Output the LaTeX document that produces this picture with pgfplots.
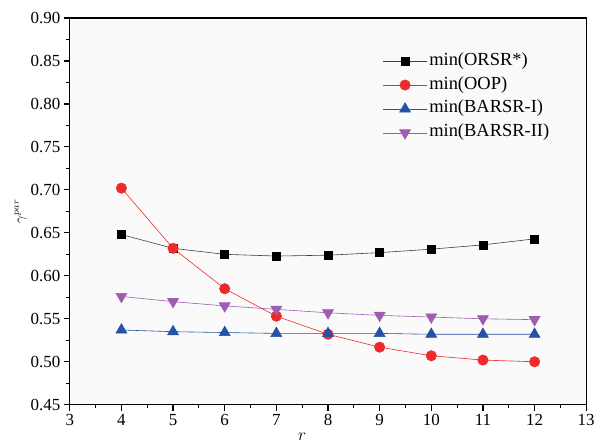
\documentclass[border=0pt]{standalone}
\usepackage{pgfplots}
\pgfplotsset{compat=1.18}
\usepackage{fontspec}
\setmainfont{Liberation Serif}
\definecolor{cred}{HTML}{EE2A2A}
\definecolor{cblue}{HTML}{2452A4}
\definecolor{cpurple}{HTML}{A05CB0}
\begin{document}
\begin{tikzpicture}
\begin{axis}[
  scale only axis,
  width=518pt, height=388pt,
  xmin=3, xmax=13, ymin=0.45, ymax=0.90,
  xtick={3,4,...,13},
  ytick={0.45,0.50,...,0.91},
  minor x tick num=1, minor y tick num=1,
  tick pos=left, tick align=outside,
  major tick length=6pt, minor tick length=3.5pt,
  axis line style={line width=1.2pt},
  every tick/.style={line width=1.2pt, black},
  axis background/.style={fill=black!2},
  /pgf/number format/assume math mode=true,
  yticklabel style={/pgf/number format/fixed, /pgf/number format/fixed zerofill, /pgf/number format/precision=2},
  ticklabel style={font=\fontsize{17}{20}\selectfont},
  xlabel={$r$}, ylabel={$\gamma^{par}$},
  xlabel style={font=\fontsize{17}{20}\selectfont, at={(ticklabel cs:0.45)}, anchor=north, yshift=-1pt},
  ylabel style={font=\fontsize{14}{16}\selectfont, yshift=-3pt},
  legend style={draw=none, fill=none, at={(0.6,0.925)}, anchor=north west,
    font=\fontsize{18.5}{22}\selectfont, row sep=0pt,
    nodes={text height=14pt, text depth=6pt}},
  legend cell align=left,
  legend image code/.code={\draw[mark repeat=2,mark phase=2,#1] plot coordinates {(0pt,0pt) (22pt,0pt) (44pt,0pt)};},
  every axis plot/.append style={line width=0.6pt},
]
\addplot[black!75, mark=square*, mark size=4pt, mark options={fill=black, draw=black}]
coordinates {(4,0.648) (5,0.632) (6,0.625) (7,0.623) (8,0.624) (9,0.627) (10,0.631) (11,0.636) (12,0.643)};
\addplot[cred, mark=*, mark size=5.2pt, mark options={fill=cred, draw=cred}]
coordinates {(4,0.702) (5,0.632) (6,0.585) (7,0.553) (8,0.532) (9,0.517) (10,0.507) (11,0.502) (12,0.500)};
\addplot[cblue, mark=triangle*, mark size=6.3pt, mark options={fill=cblue, draw=cblue}]
coordinates {(4,0.537) (5,0.535) (6,0.534) (7,0.533) (8,0.533) (9,0.533) (10,0.532) (11,0.532) (12,0.532)};
\addplot[cpurple, mark=triangle*, mark size=6.3pt, mark options={fill=cpurple, draw=cpurple, rotate=180}]
coordinates {(4,0.576) (5,0.570) (6,0.565) (7,0.561) (8,0.557) (9,0.554) (10,0.552) (11,0.550) (12,0.549)};
\legend{min(ORSR*), min(OOP), min(BARSR-I), min(BARSR-II)}
\end{axis}
\path (current axis.south west) ++(-70pt,-41pt);
\path (current axis.north east) ++(10pt,18pt);
\end{tikzpicture}
\end{document}
